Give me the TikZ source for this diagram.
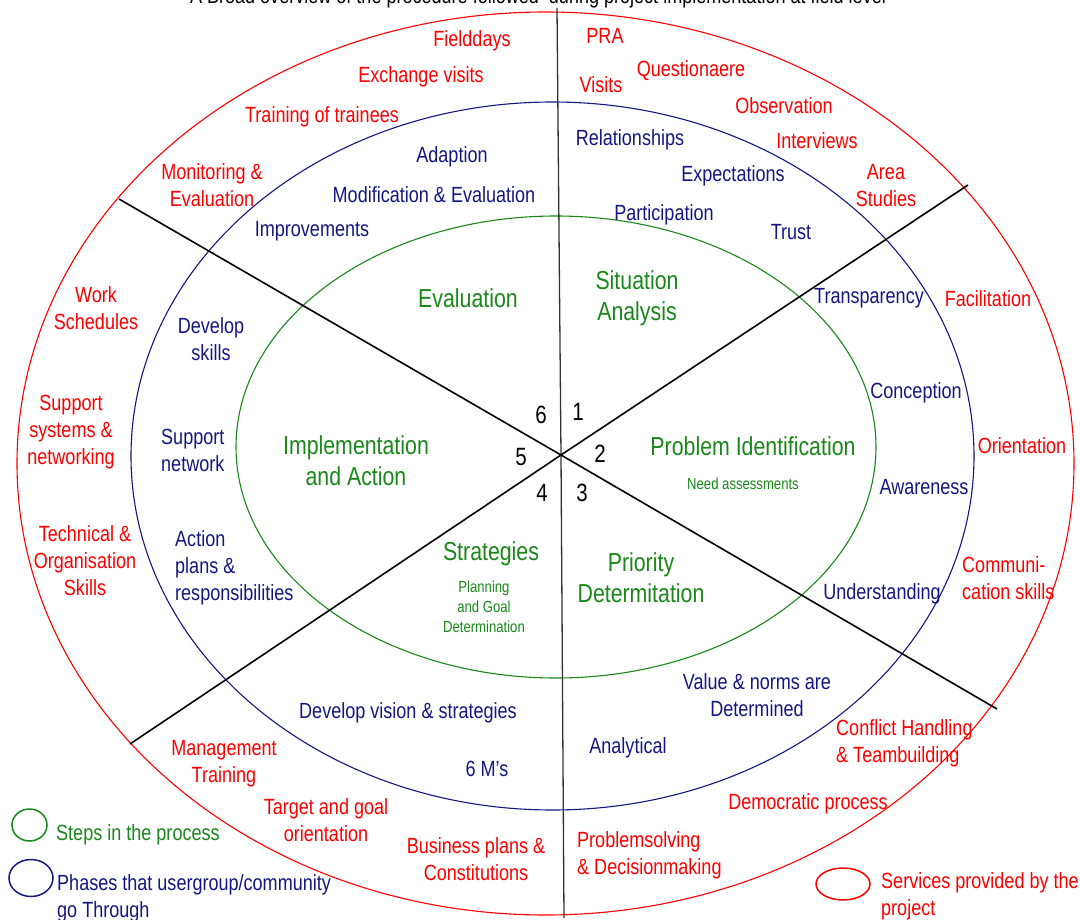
\documentclass[tikz,border=0pt]{standalone}
\usepackage{fontspec}
\setmainfont{Liberation Sans}[FakeStretch=0.82]
\definecolor{svcred}{RGB}{255,0,0}
\definecolor{phaseblue}{RGB}{22,22,130}
\definecolor{stepgreen}{RGB}{25,135,25}
\tikzset{
  label base/.style={inner sep=0pt, yshift=-1.5pt},
  svc/.style={label base, text=svcred, font=\fontsize{22}{27}\selectfont, align=center},
  svcl/.style={svc, align=left, anchor=west},
  phase/.style={label base, text=phaseblue, font=\fontsize{22}{27}\selectfont, align=center},
  phasel/.style={phase, align=left, anchor=west},
  stepname/.style={label base, text=stepgreen, font=\fontsize{26}{31}\selectfont, align=center},
  stepnote/.style={label base, text=stepgreen, font=\fontsize{16}{20}\selectfont, align=center},
  stepl/.style={label base, text=stepgreen, font=\fontsize{22}{27}\selectfont, align=left, anchor=west},
  num/.style={label base, font=\fontsize{25}{29}\selectfont},
  headline/.style={font=\fontsize{22}{27}\selectfont, inner sep=0pt, anchor=base},
  divider/.style={black, line width=1.6pt},
  axis/.style={black!80, line width=1.3pt},
}
\begin{document}
\begin{tikzpicture}[x=1pt,y=-1pt]
\useasboundingbox (0,0) rectangle (1080,920);

% title (partly above the page edge)
\node[headline] (title) at (538,4) {A Broad overview of the procedure followed\ \ during project implementation at field level};

% the three rings
\draw[svcred, line width=1.1pt] (545.5,463.5) ellipse [x radius=528.5, y radius=451.5];
\draw[phaseblue, line width=1.1pt] (552.5,456) ellipse [x radius=421.5, y radius=354];
\draw[stepgreen, line width=1.1pt] (556,447) ellipse [x radius=320, y radius=231];

% dividing lines through the hub
\coordinate (hub) at (561,455);
\coordinate (top) at (557,8);
\coordinate (bottom) at (564,918);
\coordinate (nw) at (119,199);
\coordinate (se) at (997,709);
\coordinate (ne) at (968,185);
\coordinate (sw) at (130,744);
\draw[axis] (top) -- (hub) -- (bottom);
\draw[divider] (nw) -- (hub) -- (se);
\draw[divider] (ne) -- (hub) -- (sw);

% sector numbers
\node[num] (n1) at (578,410) {1};
\node[num] (n2) at (600,452) {2};
\node[num] (n3) at (582,491) {3};
\node[num] (n4) at (542,491) {4};
\node[num] (n5) at (521,456) {5};
\node[num] (n6) at (541,413) {6};

% steps in the process
\node[stepname] (evaluation) at (468,297) {Evaluation};
\node[stepname] (situation) at (637,297) {Situation\\Analysis};
\node[stepname] (problem) at (753,445) {Problem Identification};
\node[stepnote] (need) at (743,482) {Need assessments};
\node[stepname] (priority) at (641,576) {Priority\\Determitation};
\node[stepname] (strategies) at (491,552) {Strategies};
\node[stepnote] (planning) at (484,605) {Planning\\and Goal\\Determination};
\node[stepname] (implementation) at (356,459) {Implementation\\and Action};

% phases of the user group
\node[phase] (relationships) at (630,138) {Relationships};
\node[phase] (expectations) at (733,174) {Expectations};
\node[phase] (participation) at (664,213) {Participation};
\node[phase] (trust) at (791,231) {Trust};
\node[phase] (adaption) at (452,155) {Adaption};
\node[phase] (modification) at (434,193) {Modification \& Evaluation};
\node[phase] (improvements) at (312,230) {Improvements};
\node[phase] (transparency) at (869,297) {Transparency};
\node[phase] (conception) at (916,391) {Conception};
\node[phase] (awareness) at (924,486) {Awareness};
\node[phase] (understanding) at (882,592) {Understanding};
\node[phase] (values) at (757,694) {Value \& norms are\\Determined};
\node[phase] (analytical) at (628,746) {Analytical};
\node[phase] (sixm) at (487,767) {6 M's};
\node[phase] (vision) at (408,711) {Develop vision \& strategies};
\node[phasel] (action) at (175,566) {Action\\plans \&\\responsibilities};
\node[phasel] (supportnet) at (161,448.5) {Support\\network};
\node[phase] (developskills) at (211,338) {Develop\\skills};

% services provided by the project
\node[svc] (fielddays) at (472,39) {Fielddays};
\node[svc] (exchange) at (421,75) {Exchange visits};
\node[svc] (training) at (322,115) {Training of trainees};
\node[svc] (monitoring) at (212,184) {Monitoring \&\\Evaluation};
\node[svc] (pra) at (605,34) {PRA};
\node[svc] (visits) at (601,83) {Visits};
\node[svc] (questionaere) at (691,69) {Questionaere};
\node[svc] (observation) at (784,104) {Observation};
\node[svc] (interviews) at (817,139) {Interviews};
\node[svc] (area) at (886,184) {Area\\Studies};
\node[svc] (facilitation) at (988,297) {Facilitation};
\node[svc] (orientation) at (1022,444) {Orientation};
\node[svcl] (communication) at (962,577) {Communi-\\cation skills};
\node[svcl] (conflict) at (836,742) {Conflict Handling\\\& Teambuilding};
\node[svc] (democratic) at (808,802) {Democratic process};
\node[svcl] (problemsolving) at (577,854) {Problemsolving\\\& Decisionmaking};
\node[svc] (business) at (476,858) {Business plans \&\\Constitutions};
\node[svc] (target) at (326,819) {Target and goal\\orientation};
\node[svc] (management) at (224,762) {Management\\Training};
\node[svc] (technical) at (85,559) {Technical \&\\Organisation\\Skills};
\node[svc] (supportsys) at (71,431) {Support\\systems \&\\networking};
\node[svc] (work) at (96,307) {Work\\Schedules};

% legend
\draw[stepgreen, line width=1.5pt] (29.5,825) ellipse [x radius=17.5, y radius=16];
\node[stepl] (keysteps) at (56,833) {Steps in the process};
\draw[phaseblue, line width=1.5pt] (31,878) ellipse [x radius=22, y radius=18.5];
\node[phasel] (keyphases) at (57,897) {Phases that usergroup/community\\go Through};
\draw[svcred, line width=1.5pt] (843,884) ellipse [x radius=27, y radius=16];
\node[svcl] (keyservices) at (881,895) {Services provided by the\\project};
\end{tikzpicture}
\end{document}
